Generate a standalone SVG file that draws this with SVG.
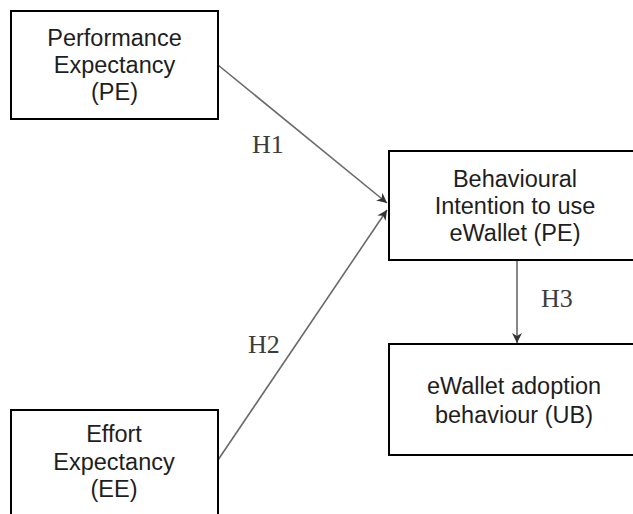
<svg xmlns="http://www.w3.org/2000/svg" width="633" height="514" viewBox="0 0 633 514">
<style>
.box{fill:#fff;stroke:#000;stroke-width:2}
.t{font-family:"Liberation Sans",Arial,sans-serif;font-size:23.5px;fill:#1e1e1e;text-anchor:middle}
.h{font-family:"Liberation Serif","Times New Roman",serif;font-size:26px;fill:#3c3c3c}
.c{stroke:#6a6a6a;stroke-width:1.6;fill:none}
</style>
<defs>
<marker id="ah" markerUnits="userSpaceOnUse" markerWidth="12" markerHeight="12" refX="10" refY="5" orient="auto">
<path d="M0,0 L10,5 L0,10 L3,5 Z" fill="#333"/>
</marker>
</defs>
<rect width="633" height="514" fill="#fff"/>
<g id="connectors">
<line class="c" x1="218" y1="65" x2="387" y2="203" marker-end="url(#ah)"/>
<line class="c" x1="218" y1="460" x2="387" y2="210" marker-end="url(#ah)"/>
<line class="c" x1="517" y1="261" x2="517" y2="343" marker-end="url(#ah)"/>
<text class="h" x="252" y="153">H1</text>
<text class="h" x="248" y="353">H2</text>
<text class="h" x="541" y="307">H3</text>
</g>
<g id="PE">
<rect class="box" x="11" y="11" width="207" height="108"/>
<text class="t" x="114.5" y="46">Performance</text>
<text class="t" x="114.5" y="73">Expectancy</text>
<text class="t" x="114.5" y="100">(PE)</text>
</g>
<g id="BI">
<rect class="box" x="389" y="151" width="260" height="109"/>
<text class="t" x="515" y="187">Behavioural</text>
<text class="t" x="515" y="214">Intention to use</text>
<text class="t" x="515" y="241">eWallet (PE)</text>
</g>
<g id="UB">
<rect class="box" x="389" y="344" width="260" height="111"/>
<text class="t" x="514" y="394">eWallet adoption</text>
<text class="t" x="514" y="423">behaviour (UB)</text>
</g>
<g id="EE">
<rect class="box" x="11" y="410" width="207" height="120"/>
<text class="t" x="114" y="442">Effort</text>
<text class="t" x="114" y="470">Expectancy</text>
<text class="t" x="114" y="497">(EE)</text>
</g>
</svg>
